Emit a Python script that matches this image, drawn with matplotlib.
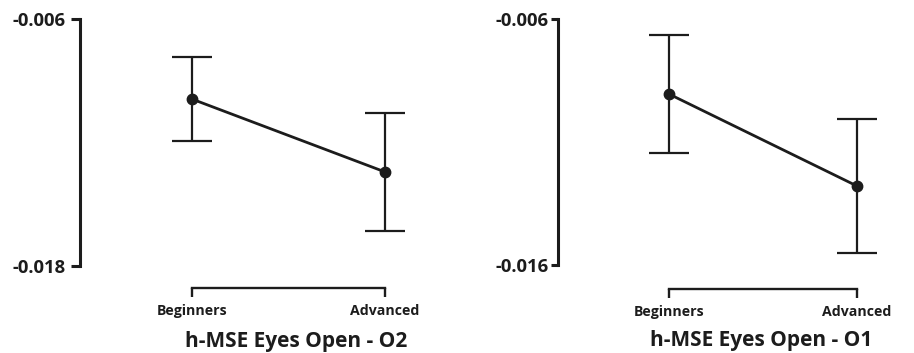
import matplotlib
matplotlib.use("Agg")
from matplotlib import pyplot as plt

plt.rcParams['font.family'] = ['Open Sans', 'DejaVu Sans']
plt.rcParams['axes.unicode_minus'] = False

groups = ["Beginners", "Advanced"]

o2_means = [-0.00989, -0.01343]
o2_err = [0.00204, 0.00287]
o2_title = "h-MSE Eyes Open - O2"
o2_ylim = (-0.018, -0.006)

o1_means = [-0.00905, -0.01279]
o1_err = [0.00238, 0.00274]
o1_title = "h-MSE Eyes Open - O1"
o1_ylim = (-0.016, -0.006)

ink = "#1c1c1c"

fig = plt.figure(figsize=(9.14, 3.53), dpi=100)
ax1 = fig.add_axes([80 / 914, 87 / 353, 350 / 914, 247 / 353])
ax2 = fig.add_axes([558 / 914, 88 / 353, 347 / 914, 246 / 353])

panels = [
    (ax1, o2_means, o2_err, o2_title, o2_ylim, (-0.580, 1.233), 15.8, 6.5, 4.0, 0.617),
    (ax2, o1_means, o1_err, o1_title, o1_ylim, (-0.590, 1.255), 17.0, 5.0, 1.8, 0.585),
]

for ax, means, err, title, ylim, xlim, drop, ylen, ypad, tx in panels:
    x = list(range(len(groups)))
    ax.errorbar(x, means, yerr=err, color=ink, lw=2.0, elinewidth=1.6,
                capsize=14.4, capthick=1.6, marker='o', markersize=7.5)
    ax.set_xlim(*xlim)
    ax.set_ylim(*ylim)
    ax.set_xticks(x)
    ax.set_xticklabels(groups)
    ax.set_yticks(list(ylim))
    ax.set_yticklabels([f"{v:.3f}" for v in ylim])

    for side in ['top', 'right']:
        ax.spines[side].set_visible(False)
    ax.spines['left'].set_linewidth(2.2)
    ax.spines['left'].set_color(ink)
    ax.spines['bottom'].set_linewidth(1.7)
    ax.spines['bottom'].set_color(ink)
    ax.spines['bottom'].set_position(('outward', drop))
    ax.spines['bottom'].set_bounds(0, 1)

    ax.tick_params(axis='y', length=ylen, width=2.2, pad=ypad, colors=ink)
    ax.tick_params(axis='x', length=6.5, width=1.7, pad=5, colors=ink)

    for lbl in ax.get_xticklabels():
        lbl.set_fontsize(10.2)
        lbl.set_fontweight('bold')
    for lbl in ax.get_yticklabels():
        lbl.set_fontsize(13.3)
        lbl.set_fontweight('bold')

    ax.text(tx, -0.306, title, transform=ax.transAxes, ha='center', va='center',
            fontsize=15, fontweight='bold', color=ink)

fig.savefig("out.png", dpi=100)
